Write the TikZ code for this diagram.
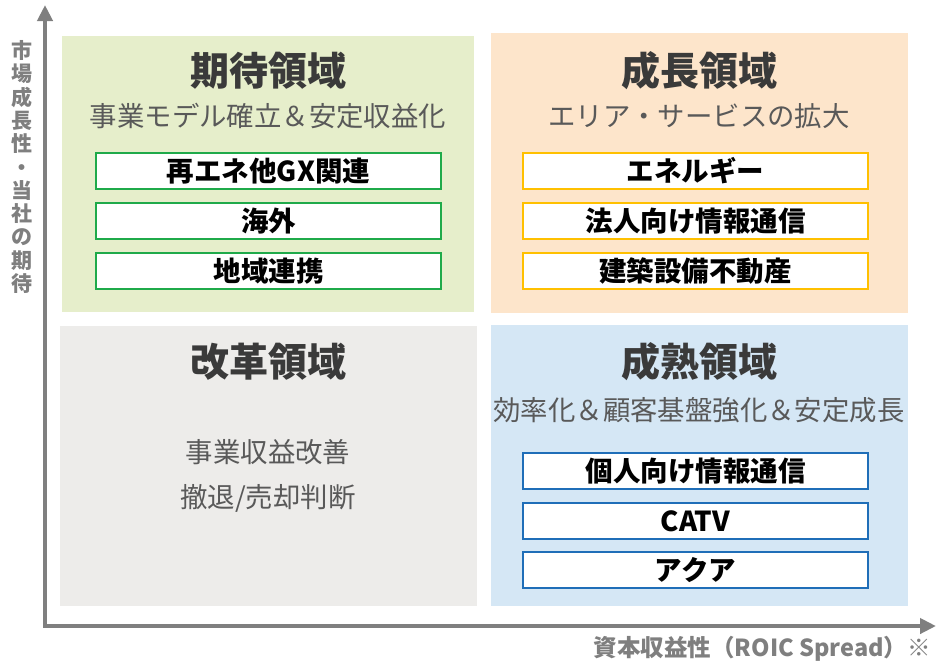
\documentclass[tikz,border=0pt]{standalone}
\usepackage{fontspec}
\setmainfont{Noto Sans CJK JP}
\newfontfamily\cjk{Noto Sans CJK JP}
\usetikzlibrary{arrows.meta}
\definecolor{axisgray}{HTML}{7F7F7F}
\definecolor{qgreen}{HTML}{E6EECB}
\definecolor{qorange}{HTML}{FDE5CB}
\definecolor{qgray}{HTML}{EDECEA}
\definecolor{qblue}{HTML}{D5E7F5}
\definecolor{bgreen}{HTML}{1FAA4A}
\definecolor{borange}{HTML}{FFC000}
\definecolor{bblue}{HTML}{1F6EB8}
\definecolor{titlec}{HTML}{3A3A3A}
\definecolor{subc}{HTML}{595959}
\tikzset{
  item/.style={draw, line width=2.6pt, fill=white, minimum width=345pt, minimum height=36pt, inner sep=0pt, font=\cjk\bfseries\fontsize{27.5}{29}\selectfont, text=black},
  qtitle/.style={font=\cjk\bfseries\fontsize{39}{42}\selectfont, text=titlec},
  qsub/.style={font=\cjk\fontsize{27.4}{30}\selectfont, text=subc},
  axis/.style={draw=axisgray, line width=4pt, -{Triangle[length=16pt,width=15pt]}},
  axlabel/.style={font=\cjk\bfseries\fontsize{21}{23.3}\selectfont, text=axisgray}
}
\begin{document}
\begin{tikzpicture}[x=1pt,y=-1pt]
\useasboundingbox (0,0) rectangle (936,662);
% quadrants
\fill[qgreen] (62,36) rectangle (474,312);
\fill[qorange] (491,33) rectangle (908,313);
\fill[qgray] (60,326) rectangle (477,606);
\fill[qblue] (491,325) rectangle (908,606);
% axes
\coordinate (ytop) at (45,5);
\coordinate (xend) at (936,626);
\draw[axis] (45,627) -- (ytop);
\draw[axis] (43,626) -- (xend);
% axis labels
\node[axlabel, align=center, inner sep=0pt] (ylab) at (22,167) {市\\場\\成\\長\\性\\・\\当\\社\\の\\期\\待};
\node[axlabel, anchor=east, inner sep=0pt, font=\cjk\bfseries\fontsize{23.5}{25}\selectfont] (xlab) at (931,649) {資本収益性（ROIC Spread）※};
% top-left
\node[qtitle] (t1) at (268,71) {期待領域};
\node[qsub] (s1) at (268,116) {事業モデル確立＆安定収益化};
\node[item, draw=bgreen] (g1) at (268.5,171) {再エネ他GX関連};
\node[item, draw=bgreen] (g2) at (268.5,221) {海外};
\node[item, draw=bgreen] (g3) at (268.5,271) {地域連携};
% top-right
\node[qtitle] (t2) at (699,71) {成長領域};
\node[qsub] (s2) at (699,116) {エリア・サービスの拡大};
\node[item, draw=borange] (o1) at (695.5,171) {エネルギー};
\node[item, draw=borange] (o2) at (695.5,221) {法人向け情報通信};
\node[item, draw=borange] (o3) at (695.5,271) {建築設備不動産};
% bottom-left
\node[qtitle] (t3) at (268,362) {改革領域};
\node[qsub] (s3a) at (268,452) {事業収益改善};
\node[qsub] (s3b) at (268,498) {撤退/売却判断};
% bottom-right
\node[qtitle] (t4) at (699,362) {成熟領域};
\node[qsub] (s4) at (699,410) {効率化＆顧客基盤強化＆安定成長};
\node[item, draw=bblue] (b1) at (695.5,471) {個人向け情報通信};
\node[item, draw=bblue] (b2) at (695.5,521) {CATV};
\node[item, draw=bblue] (b3) at (695.5,570) {アクア};
\end{tikzpicture}
\end{document}
